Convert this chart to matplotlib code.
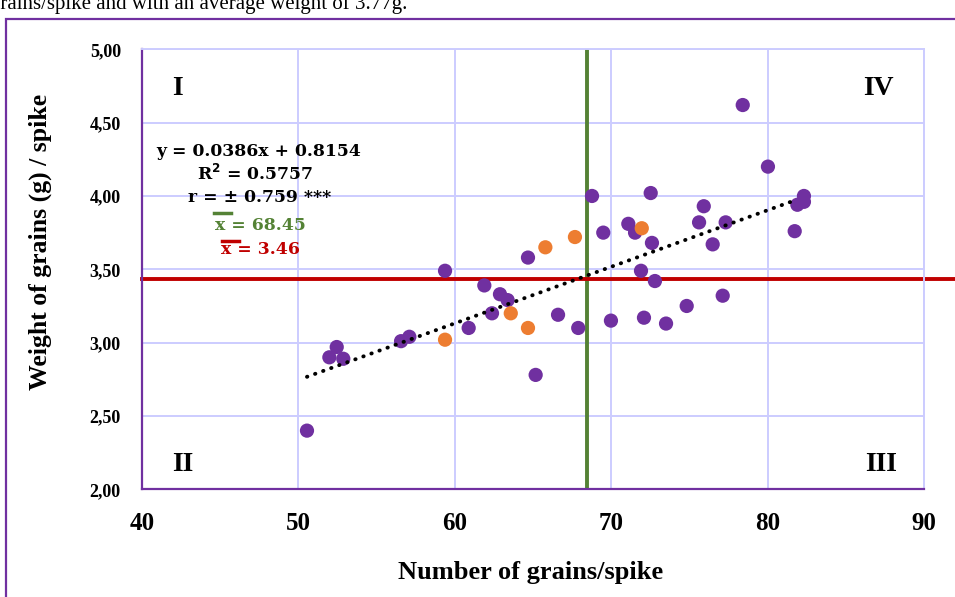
import matplotlib
matplotlib.use("Agg")
from matplotlib import pyplot as plt
from matplotlib.lines import Line2D
from matplotlib.patches import Rectangle
from matplotlib.ticker import FuncFormatter

# %% Data
grains_purple = [50.56, 51.99, 52.46, 52.88, 56.57, 57.10, 59.38, 60.89, 61.89, 62.38,
                 62.89, 63.38, 64.68, 65.17, 66.60, 67.89, 68.77, 69.49, 69.98, 71.09,
                 71.52, 71.90, 72.09, 72.52, 72.60, 72.79, 73.50, 74.82, 75.61, 75.91,
                 76.48, 77.12, 77.31, 78.40, 80.01, 81.72, 81.89, 82.31, 82.31]
weight_purple = [2.40, 2.90, 2.97, 2.89, 3.01, 3.04, 3.49, 3.10, 3.39, 3.20,
                 3.33, 3.29, 3.58, 2.78, 3.19, 3.10, 4.00, 3.75, 3.15, 3.81,
                 3.75, 3.49, 3.17, 4.02, 3.68, 3.42, 3.13, 3.25, 3.82, 3.93,
                 3.67, 3.32, 3.82, 4.62, 4.20, 3.76, 3.94, 4.00, 3.96]
grains_orange = [59.38, 63.58, 64.68, 65.79, 67.68, 71.95]
weight_orange = [3.02, 3.20, 3.10, 3.65, 3.72, 3.78]

slope, intercept = 0.0386, 0.8154
mean_x = 68.45
mean_y_line = 3.435
quadrants = ["I", "II", "III", "IV"]
eq_lines = ["y = 0.0386x + 0.8154", "R$^{\\mathbf{2}}$ = 0.5757", "r = \u00b1 0.759 ***"]
mean_x_txt = "x = 68.45"
mean_y_txt = "x = 3.46"
xticks = list(range(40, 91, 10))
yticks = [2.0, 2.5, 3.0, 3.5, 4.0, 4.5, 5.0]

# %% Figure
W, H = 955, 597
def fx(px):
    return px / W
def fy(py):
    return 1 - py / H

purple = "#7030A0"
orange = "#ED7D31"
grid_c = "#CCCCFF"
serif = "Liberation Serif"

fig = plt.figure(figsize=(W / 100, H / 100), dpi=100)
ax = fig.add_axes([fx(141.7), fy(489.3), fx(924.3) - fx(141.7), fy(49.3) - fy(489.3)])

ax.set_xlim(40, 90)
ax.set_ylim(2, 5)
ax.set_xticks(xticks)
ax.set_yticks(yticks)
ax.yaxis.set_major_formatter(FuncFormatter(lambda v, p: f"{v:.2f}".replace(".", ",")))
ax.grid(True, color=grid_c, linewidth=1.4)
ax.set_axisbelow(True)
ax.tick_params(length=0)
ax.tick_params(axis="x", pad=16)
ax.tick_params(axis="y", pad=15)
for lab in ax.get_xticklabels():
    lab.set_fontfamily(serif); lab.set_fontweight("bold"); lab.set_fontsize(18)
for lab in ax.get_yticklabels():
    lab.set_fontfamily(serif); lab.set_fontweight("bold"); lab.set_fontsize(13)
for s in ["top", "right"]:
    ax.spines[s].set_color(grid_c); ax.spines[s].set_linewidth(1.4)
for s in ["left", "bottom"]:
    ax.spines[s].set_color(purple); ax.spines[s].set_linewidth(1.6)

# mean lines
ax.axvline(mean_x, color="#548235", linewidth=2.8, zorder=2)
ax.plot([40, 92], [mean_y_line, mean_y_line], color="#C00000", linewidth=2.8,
        clip_on=False, zorder=2)

# points
ax.scatter(grains_purple, weight_purple, s=105, color=purple, edgecolors="none", zorder=3)
ax.scatter(grains_orange, weight_orange, s=105, color=orange, edgecolors="none", zorder=3)

# trend line
all_x = grains_purple + grains_orange
tx = [min(all_x), max(all_x) - 0.4]
ty = [slope * v + intercept for v in tx]
ax.plot(tx, ty, color="black", linewidth=2.8, linestyle=(0, (0.1, 2.1)),
        dash_capstyle="round", zorder=4)

# quadrant labels
qpos = {"I": (42.26, 4.736), "II": (42.64, 2.166), "III": (87.23, 2.166), "IV": (87.04, 4.736)}
for q in quadrants:
    ax.text(*qpos[q], q, ha="center", va="center", fontsize=20, fontweight="bold",
            family=serif)

# equation block
ann = dict(ha="center", va="center", fontweight="bold", family="DejaVu Serif", fontsize=12.4)
fig.text(fx(259), fy(151), eq_lines[0], **ann)
fig.text(fx(255), fy(174), eq_lines[1], **ann)
fig.text(fx(260), fy(197), eq_lines[2], **ann)
fig.text(fx(260), fy(225), mean_x_txt, color="#548235", **ann)
fig.text(fx(260), fy(250), mean_y_txt, color="#C00000", **ann)
fig.add_artist(Line2D([fx(214), fx(231)], [fy(213), fy(213)], color="#548235", linewidth=2.5))
fig.add_artist(Line2D([fx(222), fx(239)], [fy(241), fy(241)], color="#C00000", linewidth=2.5))

# axis labels
fig.text(fx(531), fy(572), "Number of grains/spike", ha="center", va="center",
         fontsize=19, fontweight="bold", family=serif)
fig.text(fx(40), fy(242), "Weight of grains (g) / spike", ha="center", va="center",
         rotation=90, fontsize=18.5, fontweight="bold", family=serif)

# outer border and clipped caption
fig.add_artist(Rectangle((fx(6), fy(700)), 1.2, fy(19) - fy(700), fill=False,
                         edgecolor=purple, linewidth=1.6, transform=fig.transFigure,
                         clip_on=False))
fig.text(fx(-10), fy(9), "grains/spike and with an average weight of 3.77g.",
         ha="left", va="baseline", fontsize=15, family=serif)

plt.savefig("out.png", dpi=100)
plt.close(fig)
